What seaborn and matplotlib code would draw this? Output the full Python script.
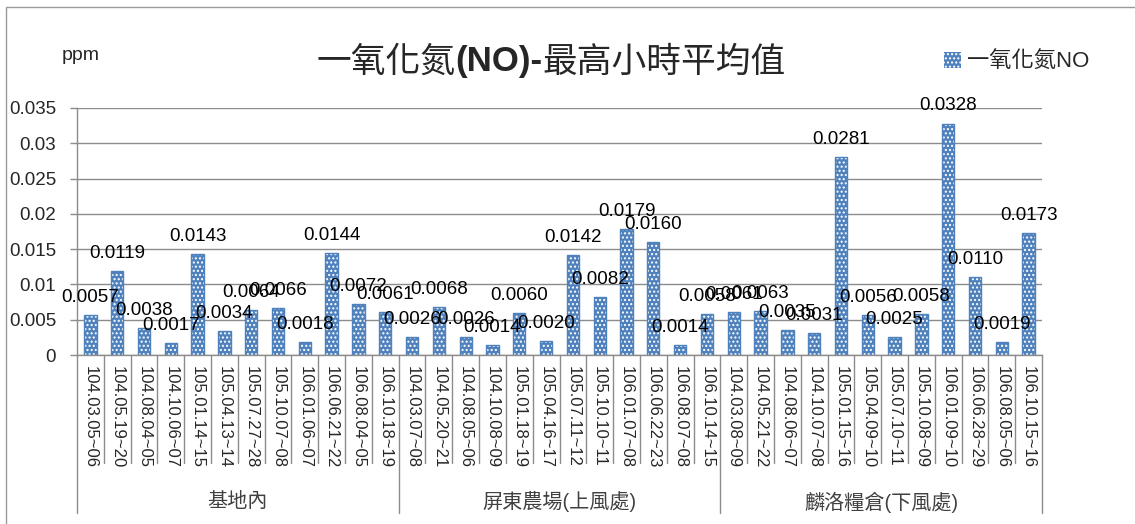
import matplotlib
matplotlib.use("Agg")
import matplotlib.pyplot as plt
from matplotlib.patches import Patch, Rectangle
import numpy as np
import pandas as pd
import seaborn as sns

# 資料
groups = ["基地內", "屏東農場(上風處)", "麟洛糧倉(下風處)"]
dates_base = ["104.03.05~06", "104.05.19~20", "104.08.04~05", "104.10.06~07",
              "105.01.14~15", "105.04.13~14", "105.07.27~28", "105.10.07~08",
              "106.01.06~07", "106.06.21~22", "106.08.04~05", "106.10.18~19"]
dates_up = ["104.03.07~08", "104.05.20~21", "104.08.05~06", "104.10.08~09",
            "105.01.18~19", "105.04.16~17", "105.07.11~12", "105.10.10~11",
            "106.01.07~08", "106.06.22~23", "106.08.07~08", "106.10.14~15"]
dates_down = ["104.03.08~09", "104.05.21~22", "104.08.06~07", "104.10.07~08",
              "105.01.15~16", "105.04.09~10", "105.07.10~11", "105.10.08~09",
              "106.01.09~10", "106.06.28~29", "106.08.05~06", "106.10.15~16"]
no_base = [0.0057, 0.0119, 0.0038, 0.0017, 0.0143, 0.0034,
           0.0064, 0.0066, 0.0018, 0.0144, 0.0072, 0.0061]
no_up = [0.0026, 0.0068, 0.0026, 0.0014, 0.0060, 0.0020,
         0.0142, 0.0082, 0.0179, 0.0160, 0.0014, 0.0058]
no_down = [0.0061, 0.0063, 0.0035, 0.0031, 0.0281, 0.0056,
           0.0025, 0.0058, 0.0328, 0.0110, 0.0019, 0.0173]

df = pd.DataFrame({
    "site": [groups[0]] * len(dates_base) + [groups[1]] * len(dates_up) + [groups[2]] * len(dates_down),
    "date": dates_base + dates_up + dates_down,
    "val": no_base + no_up + no_down,
})
df["key"] = df["site"] + "|" + df["date"]

sns.set_style("white")
plt.rcParams["font.family"] = ["Liberation Sans", "Noto Sans CJK TC", "DejaVu Sans"]
plt.rcParams["hatch.color"] = "white"
plt.rcParams["hatch.linewidth"] = 1.0

W, H = 1135, 524
fig = plt.figure(figsize=(W / 100, H / 100), dpi=100)
ax = fig.add_axes([77 / W, 1 - 355 / H, (1042 - 77) / W, (355 - 108) / H])

bar_color = "#4F81BD"
sns.barplot(data=df, x="key", y="val", order=list(df["key"]), color=bar_color,
            width=0.46, saturation=1, ax=ax)
for p in ax.patches:
    p.set_hatch("....")
    p.set_edgecolor("white")
    p.set_linewidth(0)
# blue outline around bars
sns.barplot(data=df, x="key", y="val", order=list(df["key"]), fill=False,
            width=0.46, ax=ax, linewidth=1.0, edgecolor=bar_color)

ax.bar_label(ax.containers[0], labels=[f"{v:.4f}" for v in df["val"]],
             padding=6.5, fontsize=13.5, color="black", clip_on=False)

ax.set_ylim(0, 0.035)
ax.set_xlim(-0.5, len(df) - 0.5)
ax.set_yticks(np.arange(0, 0.0351, 0.005))
ax.set_yticklabels(["0", "0.005", "0.01", "0.015", "0.02", "0.025", "0.03", "0.035"])
ax.grid(axis="y", color="#8C8C8C", linewidth=1)
ax.set_axisbelow(True)
ax.set_xlabel("")
ax.set_ylabel("")
ax.set_xticks(range(len(df)))
ax.set_xticklabels(df["date"], rotation=270, va="top", ha="center", fontsize=12)
ax.tick_params(axis="x", length=0, pad=8)
ax.tick_params(axis="y", length=5, width=1, color="#8C8C8C", labelsize=13.5, pad=10, left=True)
for s in ["top", "right"]:
    ax.spines[s].set_visible(False)
for s in ["left", "bottom"]:
    ax.spines[s].set_color("#8C8C8C")
    ax.spines[s].set_linewidth(1)

# 多層類別軸分隔線
trans = ax.get_xaxis_transform()
n = len(df)
bounds = [0, len(dates_base), len(dates_base) + len(dates_up), n]
for k in range(n + 1):
    low = -0.64 if k in bounds else -0.437
    ax.plot([k - 0.5, k - 0.5], [0, low], transform=trans, color="#8C8C8C",
            linewidth=1, clip_on=False)
for i, g in enumerate(groups):
    cx = (bounds[i] + bounds[i + 1] - 1) / 2
    ax.text(cx, -0.595, g, transform=trans, ha="center", va="center",
            fontsize=14.5, color="#404040")

# 標題(部分粗體)
parts = [("一氧化氮", "normal"), ("(NO)-", "bold"), ("最高小時平均值", "normal")]
fig.canvas.draw()
r = fig.canvas.get_renderer()
texts = []
for s, w in parts:
    t = fig.text(0, 1 - 62 / H, s, fontsize=25, fontweight=w, va="center", ha="left")
    texts.append(t)
widths = [t.get_window_extent(r).width for t in texts]
x0 = 551 - sum(widths) / 2
for t, w in zip(texts, widths):
    t.set_x(x0 / W)
    x0 += w

fig.text(62 / W, 1 - 55 / H, "ppm", fontsize=14, va="center", ha="left")

handle = Patch(facecolor=bar_color, hatch="....", edgecolor="white", linewidth=0)
fig.legend(handles=[handle], labels=["一氧化氮NO"], loc="center left",
           bbox_to_anchor=(924 / W, 1 - 62 / H), frameon=False, fontsize=16,
           handlelength=0.75, handleheight=0.75, handletextpad=0.3)

fig.add_artist(Rectangle((6 / W, -0.1), 1.2, 1.1 - 7 / H, transform=fig.transFigure,
                         fill=False, edgecolor="#9A9A9A", linewidth=1))

fig.savefig("out.png", dpi=100)
